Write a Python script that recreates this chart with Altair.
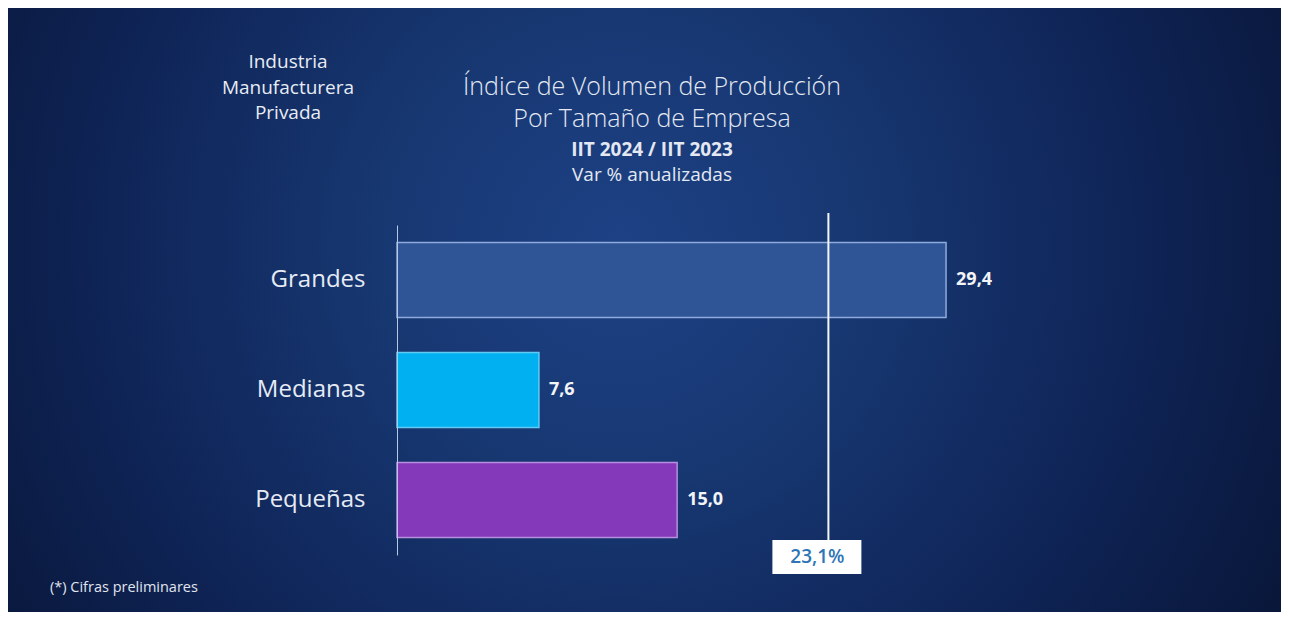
import altair as alt
import pandas as pd

# ---- data ----
categories = ["Grandes", "Medianas", "Pequeñas"]
values = [29.4, 7.6, 15.0]
bar_fill = ["#2F5597", "#00B0F0", "#8439BA"]
bar_stroke = ["#8FAADC", "#5FCBF5", "#B88FE0"]
ref_value = 23.1
ref_label = "23,1%"
title_lines = ["Índice de Volumen de Producción", "Por Tamaño de Empresa", "IIT 2024 / IIT 2023", "Var % anualizadas"]
corner_lines = ["Industria", "Manufacturera", "Privada"]
footnote = "(*) Cifras preliminares"

labels = [f"{v:.1f}".replace(".", ",") for v in values]
df = pd.DataFrame({"cat": categories, "val": values, "lab": labels})
one = pd.DataFrame({"k": [0]})

FONT = "Open Sans"
W, H = 747, 330

# background gradient rect
bg = alt.Chart(one).mark_rect(
    fill=alt.Gradient(
        gradient="radial",
        stops=[alt.GradientStop(color="#1D4185", offset=0),
               alt.GradientStop(color="#173771", offset=0.28),
               alt.GradientStop(color="#0F2558", offset=0.58),
               alt.GradientStop(color="#06102C", offset=1)],
        x1=0.48, y1=0.45, x2=0.48, y2=0.45, r1=0, r2=0.68),
).encode(x=alt.value(-389), x2=alt.value(884), y=alt.value(-217), y2=alt.value(387))

x_enc = alt.X("val:Q", scale=alt.Scale(domain=[0, 40]), axis=None)
y_enc = alt.Y("cat:N", sort=categories, title=None,
              scale=alt.Scale(paddingInner=0.32, paddingOuter=0.16),
              axis=alt.Axis(labelFont=FONT, labelFontSize=24, labelColor="#E6EBF5",
                            labelPadding=32, ticks=False, domainColor="#B9C6E4",
                            domainWidth=1, grid=False, zindex=1))

bars = alt.Chart(df).mark_bar(strokeWidth=1.5).encode(
    x=x_enc, y=y_enc,
    fill=alt.Fill("cat:N", scale=alt.Scale(domain=categories, range=bar_fill), legend=None),
    stroke=alt.Stroke("cat:N", scale=alt.Scale(domain=categories, range=bar_stroke), legend=None),
)

bar_text = alt.Chart(df).mark_text(align="left", dx=10, font=FONT, fontSize=18,
                                   fontWeight="bold", color="#F2F4F8").encode(
    x=x_enc, y=alt.Y("cat:N", sort=categories), text="lab:N")

ref = pd.DataFrame({"v": [ref_value], "t": [ref_label]})
ref_rule = alt.Chart(ref).mark_rule(color="#F4F6FA", strokeWidth=2).encode(
    x=alt.X("v:Q", scale=alt.Scale(domain=[0, 40])), y=alt.value(-12), y2=alt.value(315))
ref_box = alt.Chart(ref).mark_rect(color="#FFFFFF", xOffset=-56, x2Offset=33).encode(
    x=alt.X("v:Q", scale=alt.Scale(domain=[0, 40])), x2=alt.X2("v:Q"),
    y=alt.value(315), y2=alt.value(349))
ref_text = alt.Chart(ref).mark_text(font=FONT, fontSize=19, fontWeight=600, color="#2E75B6",
                                    dx=-11).encode(
    x=alt.X("v:Q", scale=alt.Scale(domain=[0, 40])), y=alt.value(332), text="t:N")

title_y = [-138, -106, -75, -50]
title_size = [25, 25, 19, 19]
title_weight = [300, 300, "bold", "normal"]
t_layers = []
for i, t in enumerate(title_lines):
    t_layers.append(alt.Chart(pd.DataFrame({"t": [t]})).mark_text(
        font=FONT, fontSize=title_size[i], fontWeight=title_weight[i], color="#E3E8F2",
        baseline="middle").encode(x=alt.value(255), y=alt.value(title_y[i]), text="t:N"))

cdf = pd.DataFrame({"t": corner_lines, "y": [-163, -137, -112]})
corner = alt.Chart(cdf).mark_text(font=FONT, fontSize=19, color="#E8ECF4", baseline="middle").encode(
    x=alt.value(-109), y=alt.Y("y:Q", scale=None), text="t:N")

fdf = pd.DataFrame({"t": [footnote]})
foot = alt.Chart(fdf).mark_text(font=FONT, fontSize=14.5, color="#E0E5EF", align="left",
                                baseline="middle").encode(
    x=alt.value(-347), y=alt.value(363), text="t:N")

chart = alt.layer(bg, bars, bar_text, ref_rule, ref_box, ref_text, *t_layers, corner, foot).properties(
    width=W, height=H,
    autosize=alt.AutoSizeParams(type="none"),
    padding={"left": 389, "top": 217, "right": 137, "bottom": 57},
    background="#0A1A42",
).configure_view(stroke=None)

chart.save("out.html", embed_options={"renderer": "svg", "actions": False})
